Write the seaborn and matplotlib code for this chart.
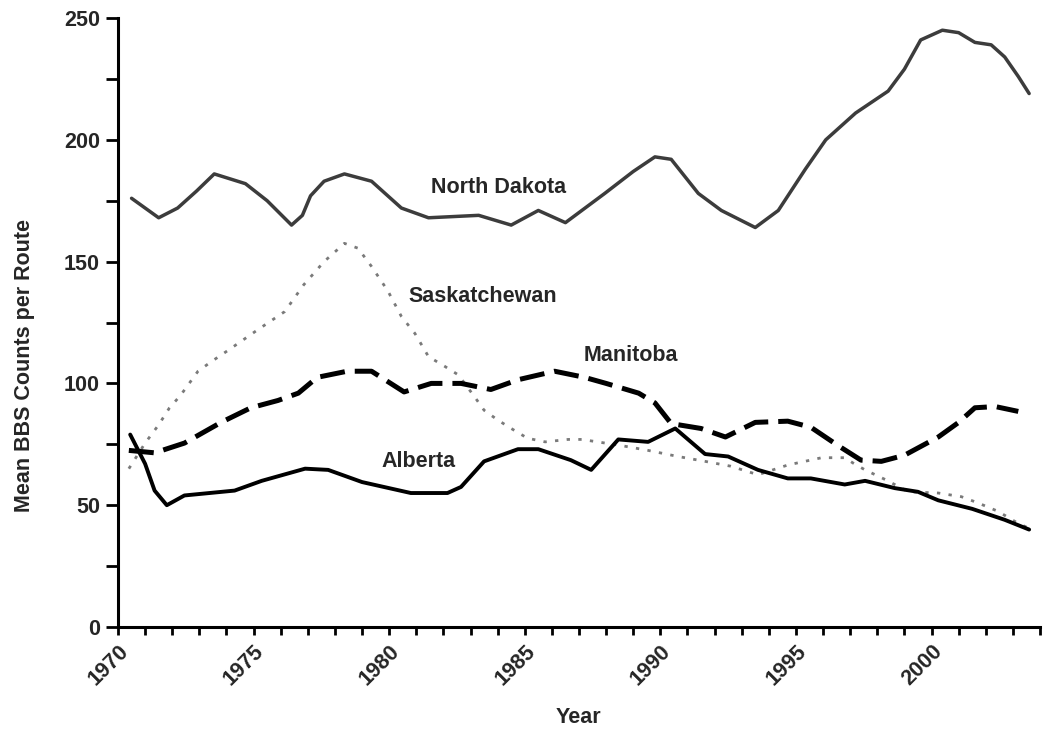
import pandas as pd
import matplotlib.pyplot as plt
import matplotlib.ticker as mticker
import seaborn as sns

# Values (year, mean BBS count per route)
nd_years = [1970.5, 1971.5, 1972.2, 1972.9, 1973.55, 1974.7, 1975.5, 1976.4, 1976.8, 1977.1,
            1977.6, 1978.35, 1979.35, 1980.45, 1981.45, 1983.3, 1984.5, 1985.5, 1986.5, 1987.95,
            1989.0, 1989.8, 1990.4, 1991.4, 1992.25, 1993.5, 1994.35, 1995.35, 1996.1, 1997.2,
            1998.4, 1999.0, 1999.6, 2000.4, 2001.0, 2001.6, 2002.2, 2002.7, 2003.2, 2003.6]
nd_vals = [176, 168, 172, 179, 186, 182, 175, 165, 169, 177,
           183, 186, 183, 172, 168, 169, 165, 171, 166, 178,
           187, 193, 192, 178, 171, 164, 171, 188, 200, 211,
           220, 229, 241, 245, 244, 240, 239, 234, 226, 219]

ab_years = [1970.45, 1971.0, 1971.35, 1971.8, 1972.45, 1974.3, 1975.3, 1976.9, 1977.75, 1979.0,
            1980.8, 1982.15, 1982.65, 1983.5, 1984.75, 1985.5, 1986.7, 1987.45, 1988.45, 1989.55,
            1990.55, 1991.65, 1992.5, 1993.6, 1994.7, 1995.55, 1996.8, 1997.55, 1998.65, 1999.5,
            2000.25, 2001.5, 2002.7, 2003.6]
ab_vals = [79, 67, 56, 50, 54, 56, 60, 65, 64.5, 59.5,
           55, 55, 57.5, 68, 73, 73, 68.5, 64.5, 77, 76,
           81.5, 71, 70, 64.5, 61, 61, 58.5, 60, 57, 55.5,
           52, 48.5, 44, 40]

mb_years = [1970.4, 1971.35, 1972.45, 1973.8, 1974.9, 1975.9, 1976.65, 1977.35, 1978.45, 1979.35,
            1980.55, 1981.55, 1982.65, 1983.75, 1984.75, 1986.1, 1987.2, 1988.0, 1989.2, 1989.8,
            1990.4, 1991.5, 1992.4, 1993.5, 1994.7, 1995.55, 1996.55, 1997.4, 1998.15, 1999.0,
            2000.25, 2001.0, 2001.6, 2002.35, 2003.2]
mb_vals = [72.5, 71.5, 75.5, 84, 90, 93, 96, 102.5, 105, 105,
           96.5, 100, 100, 97.5, 101.5, 105, 102.5, 100, 96, 92,
           83.5, 81.5, 78, 84, 84.5, 82, 74.5, 68.5, 68, 70.5,
           78, 84, 90, 90.5, 88.5]

sk_years = [1970.4, 1971.0, 1971.5, 1971.9, 1972.3, 1972.95, 1973.45, 1974.05, 1975.15, 1976.15,
            1976.85, 1977.6, 1978.35, 1978.85, 1979.35, 1979.95, 1980.45, 1980.95, 1981.45, 1982.05,
            1982.55, 1983.15, 1983.5, 1984.0, 1984.5, 1985.1, 1985.75, 1986.6, 1987.1, 1988.55,
            1989.55, 1990.65, 1991.65, 1992.6, 1993.6, 1994.7, 1995.95, 1996.8, 1997.15, 1997.55,
            1998.3, 1999.15, 2000.25, 2001.1, 2001.7, 2002.45, 2003.2, 2003.6]
sk_vals = [65, 75.5, 83, 90, 95, 105, 109, 113.5, 122, 129.5,
           140.5, 150, 157.5, 155.5, 148, 138, 127.5, 120.5, 111, 107,
           103.5, 94.5, 89, 85, 81.5, 77.5, 76, 77, 77, 74.5,
           72.5, 70, 68, 66, 62.5, 66.5, 69.5, 69.5, 67, 64.5,
           60.5, 55.5, 55, 53.5, 51, 47.5, 42.5, 40.5]

labels = ['North Dakota', 'Saskatchewan', 'Manitoba', 'Alberta']
label_x = [1984.05, 1983.45, 1988.9, 1981.1]
label_y = [180.5, 135.5, 111.5, 68]

sns.set_style('ticks')
plt.rcParams['font.family'] = ['Liberation Sans', 'DejaVu Sans']
plt.rcParams['font.weight'] = 'bold'

fig = plt.figure(figsize=(10.47, 7.30), dpi=100)
ax = fig.add_axes([0.1127, 0.1411, 0.8806, 0.8342])

nd = pd.DataFrame({'year': nd_years, 'count': nd_vals})
ab = pd.DataFrame({'year': ab_years, 'count': ab_vals})
mb = pd.DataFrame({'year': mb_years, 'count': mb_vals})
sk = pd.DataFrame({'year': sk_years, 'count': sk_vals})

sns.lineplot(data=nd, x='year', y='count', ax=ax, color='#3c3c3c', linewidth=2.5, sort=False)
sns.lineplot(data=sk, x='year', y='count', ax=ax, color='#7a7a7a', linewidth=2.0,
             linestyle=(0, (1.2, 3.0)), sort=False)
sns.lineplot(data=mb, x='year', y='count', ax=ax, color='black', linewidth=3.6,
             linestyle=(0, (5, 2)), sort=False)
sns.lineplot(data=ab, x='year', y='count', ax=ax, color='black', linewidth=2.8, sort=False)

for txt, lx, ly in zip(labels, label_x, label_y):
    ax.text(lx, ly, txt, ha='center', va='center', fontsize=15.5, fontweight='bold')

ax.set_xlim(1970, 2004)
ax.set_ylim(0, 250)
ax.xaxis.set_major_locator(mticker.MultipleLocator(5))
ax.xaxis.set_minor_locator(mticker.MultipleLocator(1))
ax.yaxis.set_major_locator(mticker.MultipleLocator(50))
ax.yaxis.set_minor_locator(mticker.MultipleLocator(25))
ax.tick_params(axis='both', which='both', direction='out', width=2, color='black')
ax.tick_params(axis='x', which='both', length=6)
ax.tick_params(axis='y', which='both', length=9)
ax.tick_params(axis='both', which='major', labelsize=15.5, pad=4)

xlabels = [str(int(v)) if v <= 2000 else '' for v in ax.get_xticks()]
ax.set_xticks(ax.get_xticks())
ax.set_xticklabels(xlabels, rotation=45, ha='right', rotation_mode='anchor', fontweight='bold')
for lab in ax.get_yticklabels():
    lab.set_fontweight('bold')
ax.set_xlim(1970, 2004)

for side in ['top', 'right']:
    ax.spines[side].set_visible(False)
for side in ['left', 'bottom']:
    ax.spines[side].set_linewidth(2.2)
    ax.spines[side].set_color('black')

ax.set_xlabel('Year', fontsize=15.5, fontweight='bold')
ax.set_ylabel('Mean BBS Counts per Route', fontsize=15.5, fontweight='bold')
ax.xaxis.set_label_coords(0.499, -0.131)
ax.yaxis.set_label_coords(-0.090, 0.4286)

plt.savefig('out.png', dpi=100)
